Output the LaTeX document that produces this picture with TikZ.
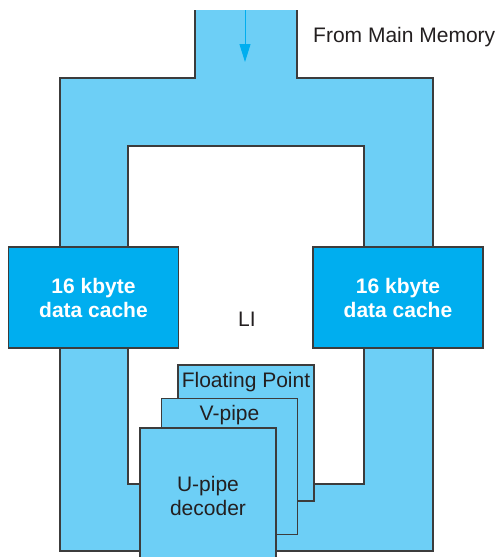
\documentclass[tikz,border=0pt]{standalone}
\usepackage{fontspec}
\setmainfont{Liberation Sans}
\usepackage{xcolor}
\usepackage{tikz}
\usetikzlibrary{positioning,arrows.meta}
\definecolor{ringblue}{HTML}{6DCFF6}
\definecolor{cacheblue}{HTML}{00AEEF}
\definecolor{edge}{HTML}{3C3C3C}
\definecolor{ink}{HTML}{231F20}

\begin{document}
\begin{tikzpicture}[x=1pt, y=-1pt, font=\fontsize{21}{24}\selectfont, text=ink]
\tikzstyle{box}=[draw=edge, line width=1.2pt, align=center, inner sep=0pt]
\tikzstyle{cache}=[box, fill=cacheblue, text=white,
  font=\fontsize{21}{24}\selectfont\bfseries,
  minimum width=170pt, minimum height=101pt]
\tikzstyle{unit}=[box, fill=ringblue, minimum width=136pt, minimum height=136pt]
\tikzstyle{tag}=[anchor=north, inner sep=0pt, yshift=-7.5pt]
\useasboundingbox (0,0) rectangle (497,557);
\clip (0,0) rectangle (497,557);
% L1 ring with the feed from memory
\fill[ringblue, even odd rule] (195,10) -- (195,78) -- (60,78) -- (60,551)
  -- (433,551) -- (433,78) -- (297,78) -- (297,10) -- cycle
  (128,146) rectangle (364,484);
\draw[edge, line width=1.2pt] (195,10) -- (195,78) -- (60,78) -- (60,551)
  -- (433,551) -- (433,78) -- (297,78) -- (297,10)
  (128,146) rectangle (364,484);
\coordinate (src) at (245,10);
\coordinate (dst) at (245,62);
\draw[cacheblue, line width=1pt, -{Triangle[length=18pt,width=11pt]}] (src) -- (dst);
\node[anchor=base west, inner sep=0pt] (mem) at (313,42) {From Main Memory};
\node[anchor=base, inner sep=0pt] (li) at (247,326) {LI};
% caches
\node[cache] (cacheL) at (93.5,297.5) {16 kbyte\\data cache};
\node[cache] (cacheR) at (398,297.5) {16 kbyte\\data cache};
% pipes
\node[unit, label={[tag]north:Floating Point}] (fp) at (246,433) {};
\node[unit, label={[tag]north:V-pipe}] (vp) at (229.5,466.5) {};
\node[unit] (up) at (208,496) {U-pipe\\decoder};
\end{tikzpicture}
\end{document}
